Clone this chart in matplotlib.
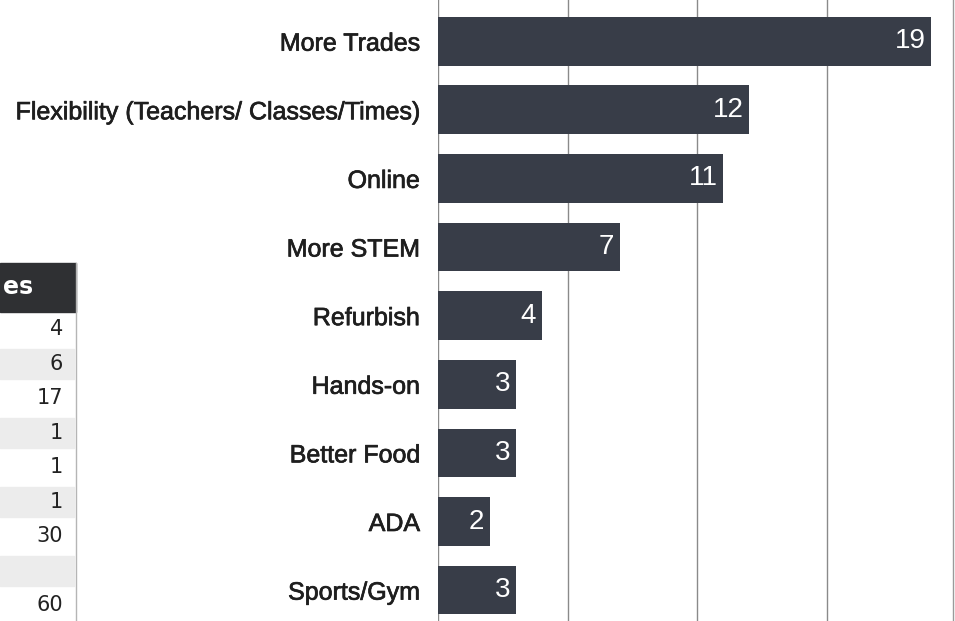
import matplotlib
matplotlib.use("Agg")
import matplotlib.pyplot as plt
import matplotlib.patheffects as pe
from matplotlib.patches import Rectangle

# survey answers, top to bottom
categories = ["More Trades", "Flexibility (Teachers/ Classes/Times)", "Online",
              "More STEM", "Refurbish", "Hands-on", "Better Food", "ADA", "Sports/Gym"]
counts = [19, 12, 11, 7, 4, 3, 3, 2, 3]

# right-hand column of the side table (only its edge is visible)
table_header = "es"
table_values = ["4", "6", "17", "1", "1", "1", "30", "", "60"]

BAR = "#383d48"
GRID = "#8a8a8a"
NARROW = ["DejaVu Sans Condensed", "Liberation Sans Narrow", "DejaVu Sans"]

plt.rcParams["font.family"] = ["Liberation Sans", "DejaVu Sans"]

fig = plt.figure(figsize=(9.55, 6.21), dpi=100)
W, H = 955, 621

ax = fig.add_axes([438 / W, 0, (953 - 438) / W, 1])
y = list(range(len(categories)))
ax.barh(y, counts, height=0.71, color=BAR, zorder=2)
ax.set_ylim(8.45, -0.6)
ax.set_xlim(0, 19.85)
ax.set_xticks([0, 5, 10, 15])
ax.grid(axis="x", color=GRID, linewidth=1.0, zorder=0)
ax.tick_params(axis="x", length=0, labelbottom=False)
ax.set_yticks(y)
ax.set_yticklabels(categories, fontsize=18, color="#1e1e1e")
ax.tick_params(axis="y", length=0, pad=13)
for lab in ax.get_yticklabels():
    lab.set_path_effects([pe.withStroke(linewidth=0.5, foreground="#1e1e1e")])
for name in ["top", "left", "bottom"]:
    ax.spines[name].set_visible(False)
ax.spines["right"].set_color("#9a9a9a")
ax.spines["right"].set_linewidth(1.0)

for yi, v in zip(y, counts):
    ax.annotate(str(v), xy=(v, yi), xytext=(-4, 0), textcoords="offset points",
                ha="right", va="center", color="white", fontsize=20, zorder=3)

# side table on the left edge
tab = fig.add_axes([0, 0, 1, 1], facecolor="none")
tab.set_xlim(0, W)
tab.set_ylim(H, 0)
tab.axis("off")
tab.set_zorder(-1)

head_top, head_bot = 263, 312
row_h = 34.5
right = 76
tab.add_patch(Rectangle((0, head_top), right, head_bot - head_top, color="#2f3033"))
tab.text(3, (head_top + head_bot) / 2, table_header, color="white", fontsize=17,
         fontweight="bold", ha="left", va="center", family=NARROW)
for i, val in enumerate(table_values):
    top = head_bot + i * row_h
    if i % 2 == 1:
        tab.add_patch(Rectangle((0, top + 2), right - 2, row_h - 4, color="#ececec"))
    tab.text(63, top + row_h / 2, val, ha="right", va="center", fontsize=15,
             color="#222222", family=NARROW)
bottom = head_bot + len(table_values) * row_h
tab.plot([right, right], [head_top, bottom], color="#b5b5b5", linewidth=1.0)
tab.plot([0, right], [bottom, bottom], color="#b5b5b5", linewidth=1.0)

fig.savefig("out.png", dpi=100)
